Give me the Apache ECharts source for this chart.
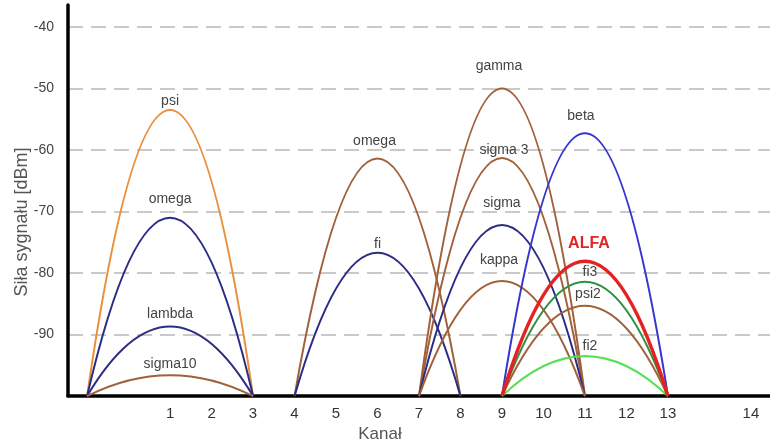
<!DOCTYPE html>
<html>
<head>
<meta charset="utf-8">
<script src="https://cdn.jsdelivr.net/npm/echarts@6/dist/echarts.min.js"></script>
<style>
html,body{margin:0;padding:0;background:#fff;}
#chart{width:770px;height:448px;}
</style>
</head>
<body>
<div id="chart"></div>
<script>
// ---- data ----
const networks = ['psi','omega','lambda','sigma10','omega','fi','gamma','sigma 3','sigma','kappa','beta','fi2','psi2','fi3','ALFA'];
const channels = [1,1,1,1,6,6,9,9,9,9,11,11,11,11,11];
const peaks    = [-53.5,-71.0,-88.7,-96.6,-61.4,-76.7,-50.0,-61.3,-72.2,-81.3,-57.3,-93.5,-85.3,-81.4,-78.1];
const tickPositions = [1,2,3,4,5,6,7,8,9,10,11,12,13,15];
const tickLabels    = ['1','2','3','4','5','6','7','8','9','10','11','12','13','14'];
const yTicks = [-100,-90,-80,-70,-60,-50,-40];
const floorLevel = -100;

// ---- styles / layout ----
const ORANGE='#E8913C', NAVY='#2B2D84', BROWN='#A0603A', BLUE='#3535D0', RED='#E52222', DKGREEN='#2E9040', LTGREEN='#55E055';
const colors = [ORANGE,NAVY,NAVY,BROWN,BROWN,NAVY,BROWN,BROWN,NAVY,BROWN,BLUE,LTGREEN,BROWN,DKGREEN,RED];
const widths = [2,2,2,2,2,2,2,2,2,2,2,2,2,2,3.5];
const labelDx = [0,0,0,0,-3,0,-3,2,0,-3,-4,5,3,5,4];
const labelDy = [-9,-18,-12,-11,-17,-9,-22,-8,-22,-21,-17,-10,-11,-9,-18];
const halfSpan = 2; // channel half-width of each arc
const FONT = "'Liberation Sans', Arial, sans-serif";

const curveData = channels.map((c,i)=>[c, peaks[i]]);

const chart = echarts.init(document.getElementById('chart'), null, {renderer:'canvas'});
chart.setOption({
  animation:false,
  backgroundColor:'#fff',
  grid:{left:68,right:0,top:5,bottom:49.5},
  xAxis:{
    type:'value', min:-1.46, max:15.46,
    name:'Kanał', nameLocation:'middle', nameGap:28,
    nameTextStyle:{fontSize:17,color:'#555',fontFamily:FONT,padding:[0,78,0,0]},
    axisLine:{show:true,onZero:false,lineStyle:{color:'#000',width:3.5}},
    axisTick:{show:false},
    splitLine:{show:false},
    axisLabel:{
      customValues:tickPositions,
      formatter:v=>{const k=tickPositions.indexOf(v);return k>=0?tickLabels[k]:'';},
      fontSize:15,color:'#333',fontFamily:FONT,margin:10
    }
  },
  yAxis:{
    type:'value', min:-100, max:-36.45, interval:10,
    name:'Siła sygnału [dBm]', nameLocation:'middle', nameGap:37, nameMoveOverlap:false,
    nameTextStyle:{fontSize:18,color:'#555',fontFamily:FONT,padding:[0,43,0,0]},
    axisLine:{show:true,onZero:false,lineStyle:{color:'#000',width:3.5}},
    axisTick:{show:false},
    axisLabel:{
      formatter:v=>(yTicks.indexOf(v)>=0 && v!==floorLevel)?String(v):'',
      fontSize:14,color:'#444',fontFamily:FONT,margin:14
    },
    splitLine:{show:true,showMaxLine:false,showMinLine:false,lineStyle:{color:'#b8b8b8',width:1.5,type:[15,8]}}
  },
  series:[
    {
      type:'custom', clip:false, z:3,
      data:curveData,
      renderItem:(params,api)=>{
        const i=params.dataIndex;
        const c=api.value(0), p=api.value(1);
        const L=api.coord([c-halfSpan,floorLevel]);
        const R=api.coord([c+halfSpan,floorLevel]);
        const T=api.coord([c,p]);
        return {
          type:'bezierCurve',
          shape:{x1:L[0],y1:L[1],x2:R[0],y2:R[1],cpx1:T[0],cpy1:2*T[1]-L[1]},
          style:{fill:null,stroke:colors[i],lineWidth:widths[i]}
        };
      }
    },
    {
      type:'custom', clip:false, z:5,
      data:curveData,
      renderItem:(params,api)=>{
        const i=params.dataIndex;
        const T=api.coord([api.value(0),api.value(1)]);
        const isAlfa = networks[i]==='ALFA';
        return {
          type:'text',
          style:{
            text:networks[i], x:T[0]+labelDx[i], y:T[1]+labelDy[i],
            align:'center', verticalAlign:'middle',
            fill:isAlfa?RED:'#444',
            font:(isAlfa?'bold 16px ':'14px ')+FONT
          }
        };
      }
    }
  ]
});
</script>
</body>
</html>
